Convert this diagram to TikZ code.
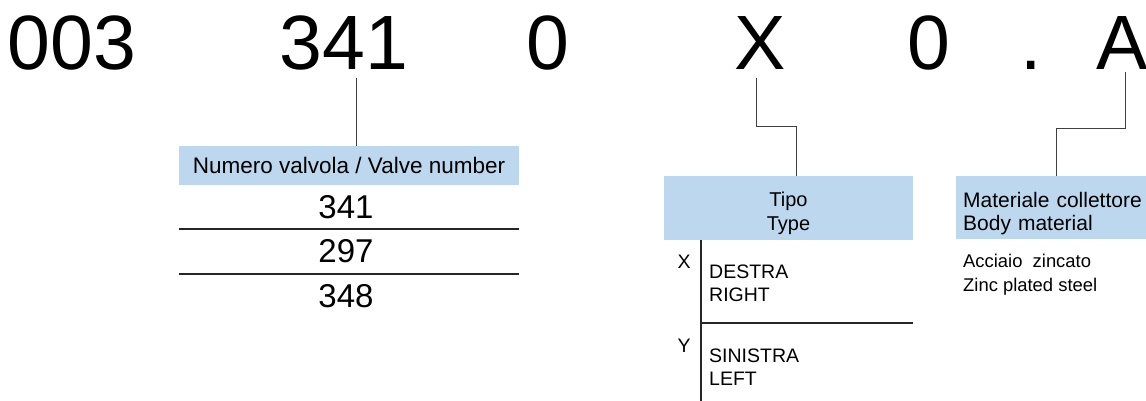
\documentclass[tikz,border=0pt]{standalone}
\usepackage{fontspec}
\setmainfont{Liberation Sans}
\definecolor{hdrblue}{RGB}{189,215,238}
\usetikzlibrary{positioning,calc}

\begin{document}
\begin{tikzpicture}[x=1pt, y=-1pt,
  bigdig/.style={anchor=base, inner sep=0pt, font=\fontsize{77}{80}\selectfont},
  hdr/.style={rectangle, fill=hdrblue, inner sep=0pt, align=center,
              font=\fontsize{20}{24}\selectfont},
  rownum/.style={anchor=base, inner sep=0pt, font=\fontsize{33}{36}\selectfont},
  opt/.style={anchor=base west, inner sep=0pt, align=left,
              font=\fontsize{19.5}{22.5}\selectfont},
  code/.style={anchor=base, inner sep=0pt, font=\fontsize{19.5}{22}\selectfont},
  lead/.style={draw=black!75, line width=1pt},
  rule/.style={draw=black!85, line width=1.2pt}
]
\useasboundingbox (0,0) rectangle (1146,401);

% Code string
\node[bigdig] (pre)   at (72,70)   {003};
\node[bigdig] (valve) at (344,70)  {341};
\node[bigdig] (zeroa) at (548,70)  {0};
\node[bigdig] (type)  at (760,70)  {X};
\node[bigdig] (zerob) at (929,70)  {0};
\node[bigdig] (dot)   at (1031,70) {.};
\node[bigdig] (mat)   at (1122,70) {A};

% Valve number table
\node[hdr, minimum width=340, minimum height=38, font=\fontsize{22.5}{26}\selectfont]
  (valvehdr) at (349,165.5) {Numero valvola / Valve number};
\node[rownum] (v341) at (346,218) {341};
\node[rownum] (v297) at (346,262) {297};
\node[rownum] (v348) at (346,307) {348};
\draw[rule] (valvehdr.west |- 0,229) -- (valvehdr.east |- 0,229);
\draw[rule] (valvehdr.west |- 0,274) -- (valvehdr.east |- 0,274);

% Type table
\node[hdr, minimum width=249, minimum height=64] (tipohdr) at (788.5,208)
  {\rule{0pt}{26pt}Tipo\\Type};
\node[code] (cx) at (684,268) {X};
\node[code] (cy) at (684,352) {Y};
\node[opt] (right) at (709,301) {DESTRA\\RIGHT};
\node[opt] (left)  at (709,385) {SINISTRA\\LEFT};
\draw[rule] (tipohdr.south west -| 701,0) -- (701,401);
\draw[rule] (701,323) -- (tipohdr.east |- 0,323);

% Body material
\node[hdr, anchor=north west, minimum width=200, minimum height=63, text width=190,
      align=left, font=\fontsize{21}{23}\selectfont, inner xsep=7pt]
  (mathdr) at (956,176) {\rule{0pt}{27pt}Materiale collettore\\Body material};
\node[opt, font=\fontsize{18.4}{24}\selectfont] (steel) at (963,291)
  {Acciaio\ \ zincato\\Zinc plated steel};

% Leaders
\coordinate (v1) at (356,78);
\draw[lead] (v1) -- (v1 |- valvehdr.north);
\coordinate (t1) at (756,78);
\coordinate (t2) at (796,127);
\draw[lead] (t1) |- (t2) -- (t2 |- tipohdr.north);
\coordinate (m1) at (1125,72);
\coordinate (m2) at (1056,129);
\draw[lead] (m1) |- (m2) -- (m2 |- mathdr.north);
\end{tikzpicture}
\end{document}
